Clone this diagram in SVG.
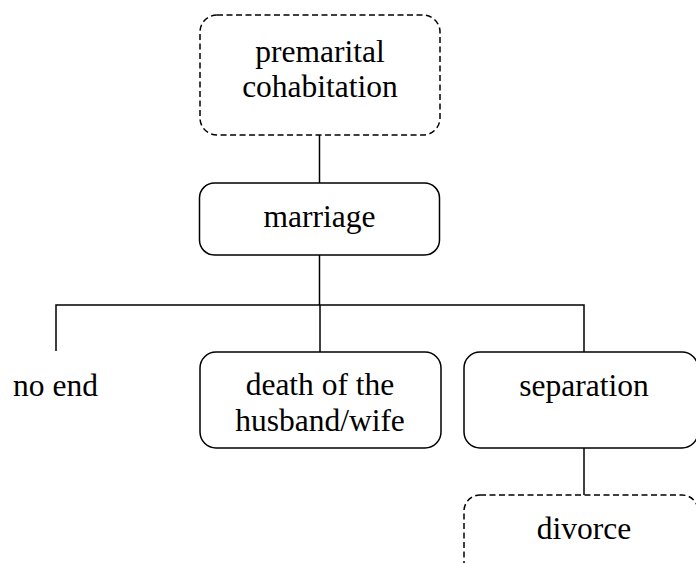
<svg xmlns="http://www.w3.org/2000/svg" width="696" height="563" viewBox="0 0 696 563">
<style>
.box{fill:#fff;stroke:#000;stroke-width:1.5}
.dash{stroke-dasharray:6 3.5}
.t{font-family:"Liberation Serif","Times New Roman",serif;font-size:31.5px;fill:#000;text-anchor:middle}
.c{fill:none;stroke:#000;stroke-width:1.5}
</style>
<rect width="696" height="563" fill="#fff"/>
<g id="connectors">
<path class="c" d="M319.5 135V183"/>
<path class="c" d="M319.5 255V305"/>
<path class="c" d="M56 351V305H584V352"/>
<path class="c" d="M320 305V352"/>
<path class="c" d="M584 448V495"/>
</g>
<g id="premarital">
<rect class="box dash" x="200" y="15" width="240" height="120" rx="17"/>
<text class="t" x="320" y="62">premarital</text>
<text class="t" x="320" y="97">cohabitation</text>
</g>
<g id="marriage">
<rect class="box" x="199.5" y="183" width="240" height="72" rx="15"/>
<text class="t" x="319.5" y="227">marriage</text>
</g>
<g id="noend">
<text class="t" x="55.5" y="396">no end</text>
</g>
<g id="death">
<rect class="box" x="200" y="352" width="241" height="96" rx="16"/>
<text class="t" x="320" y="395">death of the</text>
<text class="t" x="320" y="431">husband/wife</text>
</g>
<g id="separation">
<rect class="box" x="464" y="352" width="234" height="96" rx="16"/>
<text class="t" x="584" y="396">separation</text>
</g>
<g id="divorce">
<rect class="box dash" x="464" y="495" width="234" height="96" rx="16"/>
<text class="t" x="584" y="539">divorce</text>
</g>
</svg>
